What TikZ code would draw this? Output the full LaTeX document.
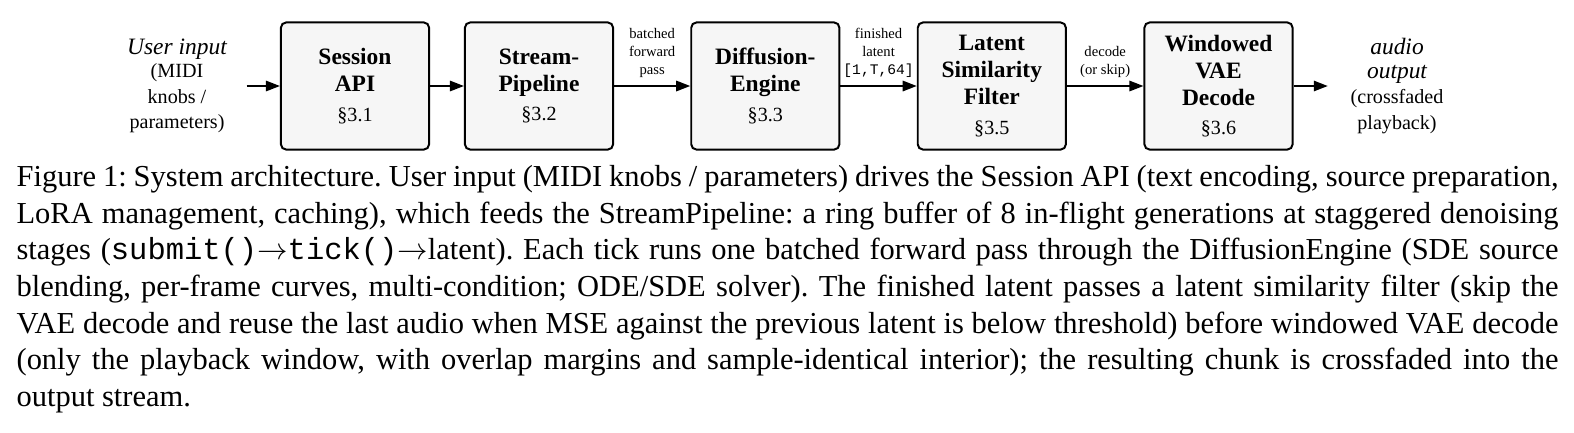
\documentclass[tikz,border=0pt]{standalone}
\usepackage{fontspec}
\setmainfont{Liberation Serif}
\setmonofont{Liberation Mono}
\newfontfamily\dserif{Liberation Serif}
\usetikzlibrary{arrows.meta}
\definecolor{boxfill}{gray}{0.965}
\begin{document}
\begin{tikzpicture}[x=0.3281pt, y=-0.3281pt,
  stage/.style={draw, line width=0.65pt, fill=boxfill, rounded corners=1.7pt,
    minimum width=48.6pt, minimum height=41.7pt, align=center, inner sep=0pt,
    font=\dserif\fontsize{7.7}{8.85}\selectfont\bfseries},
  arr/.style={-{Triangle[length=4.6pt,width=3.4pt]}, line width=0.6pt},
  lbl/.style={font=\dserif\fontsize{4.8}{5.8}\selectfont, align=center, inner sep=0pt, above=2.6pt},
  endtext/.style={align=center, inner ysep=0pt, font=\dserif\fontsize{6.6}{8.3}\selectfont}
]
\useasboundingbox (0,0) rectangle (1574,432);

\node[endtext, inner xsep=6.3pt] (in) at (177,86)
  {{\fontsize{7.7}{8.3}\selectfont\itshape User input}\\[-0.7pt](MIDI\\knobs /\\parameters)};
\node[stage] (s1) at (355,86) {Session\\API\\[0.9pt]{\fontsize{6.6}{8}\selectfont\mdseries\S3.1}};
\node[stage] (s2) at (539,86) {Stream-\\Pipeline\\[0.9pt]{\fontsize{6.6}{8}\selectfont\mdseries\S3.2}};
\node[stage] (s3) at (765.3,86) {Diffusion-\\Engine\\[0.9pt]{\fontsize{6.6}{8}\selectfont\mdseries\S3.3}};
\node[stage] (s4) at (991.8,86) {Latent\\Similarity\\Filter\\[0.9pt]{\fontsize{6.6}{8}\selectfont\mdseries\S3.5}};
\node[stage] (s5) at (1218.5,86) {Windowed\\VAE\\Decode\\[0.9pt]{\fontsize{6.6}{8}\selectfont\mdseries\S3.6}};
\node[endtext, inner xsep=7.3pt] (out) at (1397,86)
  {{\fontsize{7.7}{8.5}\selectfont\itshape audio}\\[-0.6pt]{\fontsize{7.7}{8.5}\selectfont\itshape output}\\(crossfaded\\playback)};

\draw[arr] (in.east) -- (s1.west);
\draw[arr] (s1.east) -- (s2.west);
\draw[arr] (s2.east) -- node[lbl] {batched\\forward\\pass} (s3.west);
\draw[arr] (s3.east) -- node[lbl] {finished\\latent\\\texttt{[1,T,64]}} (s4.west);
\draw[arr] (s4.east) -- node[lbl] {decode\\(or skip)} (s5.west);
\draw[arr] (s5.east) -- (out.west);

\node[anchor=north west, inner sep=0pt, text width=505.9pt, align=justify,
  font=\dserif\fontsize{10}{12}\selectfont] (cap) at (16,165)
{\frenchspacing\hyphenpenalty=10000\exhyphenpenalty=10000
Figure 1: System architecture. User input (MIDI knobs / parameters) drives the Session API (text encoding, source preparation,\linebreak
LoRA management, caching), which feeds the StreamPipeline: a ring buffer of 8 in-flight generations at staggered denoising\linebreak
stages (\texttt{submit()}$\rightarrow$\texttt{tick()}$\rightarrow$latent). Each tick runs one batched forward pass through the DiffusionEngine (SDE source\linebreak
blending, per-frame curves, multi-condition; ODE/SDE solver). The finished latent passes a latent similarity filter (skip the\linebreak
VAE decode and reuse the last audio when MSE against the previous latent is below threshold) before windowed VAE decode\linebreak
(only the playback window, with overlap margins and sample-identical interior); the resulting chunk is crossfaded into the\linebreak
output stream.};
\end{tikzpicture}
\end{document}
